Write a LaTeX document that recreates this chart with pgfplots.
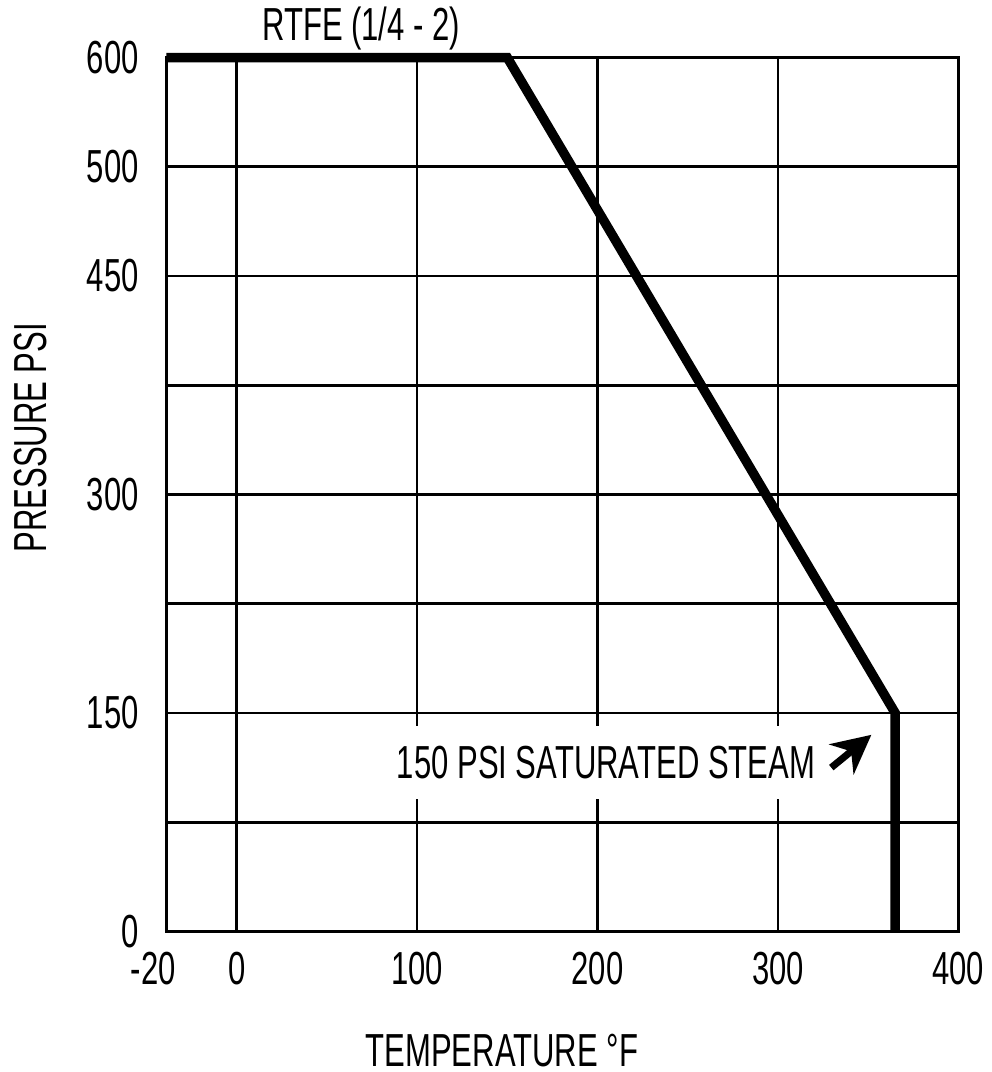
\documentclass[border=0pt]{standalone}
\usepackage{fontspec}
\setmainfont{Liberation Sans}[FakeStretch=0.67]
\usepackage{pgfplots}
\pgfplotsset{compat=1.18}
\usetikzlibrary{arrows.meta}

\begin{document}
\fontsize{13.2}{15}\selectfont
\begin{tikzpicture}
\begin{axis}[
    scale only axis,
    width=7.93cm, height=8.75cm,
    xmin=-39, xmax=400,
    ymin=0, ymax=8,
    xtick={-39,0,100,200,300,400},
    xticklabels={\hspace*{-0.26cm}-20,0,100,200,300,400},
    ytick={0,1,2,3,4,5,6,7,8},
    yticklabels={0,,150,,300,,450,500,600},
    /pgf/number format/assume math mode=true,
    major tick length=0pt,
    grid=major,
    grid style={black, line width=0.75pt},
    axis line style={black, line width=0.95pt},
    tick label style={font=\fontsize{13.2}{15}\selectfont, inner sep=2pt},
    xticklabel style={yshift=-0.13cm},
    yticklabel style={xshift=-0.2cm},
    clip=false,
]
% pressure rating curve
\addplot[black, line width=2.7pt, line cap=butt, line join=miter] coordinates {
    (-39,8) (150,8) (365,2) (365,0)
};
\node[anchor=base, inner sep=2pt] at (axis cs:69,8) [yshift=0.17cm] {RTFE (1/4 - 2)};
\node[fill=white, inner xsep=3pt, inner ysep=0.2cm] at (axis cs:204.7,1.55) {150 PSI SATURATED STEAM};
\draw[line width=2pt, -{Stealth[length=11pt, width=11pt]}] (axis cs:329.6,1.50) -- (axis cs:351.8,1.80);
\node[anchor=base, inner sep=1.5pt] at (axis cs:147,0) [yshift=-1.35cm] {TEMPERATURE °F};
\node[rotate=90, inner sep=4pt] at (axis cs:-114.3,4.52) {PRESSURE PSI};
\end{axis}
\end{tikzpicture}
\end{document}
